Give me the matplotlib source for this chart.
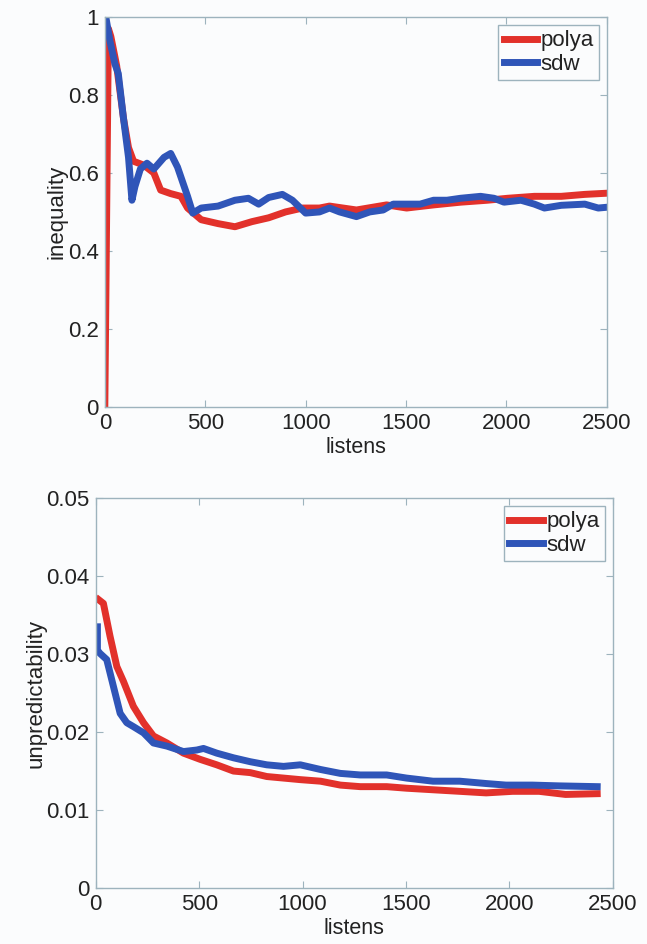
import numpy as np
import matplotlib.pyplot as plt

plt.rcParams['font.family'] = ['Liberation Sans', 'DejaVu Sans']

##### inequality vs listens (top panel)
ineq_polya_x = [0, 0, 18, 30, 59, 93, 118, 143, 194, 244, 278, 328, 379, 412, 480,
                564, 648, 732, 816, 900, 985, 1069, 1119, 1253, 1403, 1503, 1637,
                1771, 1905, 2005, 2139, 2273, 2390, 2500]
ineq_polya_y = [0.0, 0.0, 0.97, 0.95, 0.875, 0.74, 0.665, 0.63, 0.62, 0.60, 0.556,
                0.547, 0.54, 0.51, 0.48, 0.47, 0.462, 0.475, 0.485, 0.50, 0.51, 0.51,
                0.515, 0.505, 0.518, 0.51, 0.518, 0.525, 0.53, 0.535, 0.54, 0.54,
                0.545, 0.548]

ineq_sdw_x = [5, 25, 50, 67, 93, 118, 135, 150, 177, 210, 244, 295, 328, 362, 412,
              438, 480, 564, 648, 715, 766, 816, 884, 934, 1000, 1069, 1119, 1169,
              1253, 1319, 1386, 1436, 1503, 1570, 1637, 1704, 1771, 1871, 1938,
              1988, 2072, 2139, 2189, 2273, 2390, 2457, 2500]
ineq_sdw_y = [1.0, 0.94, 0.88, 0.855, 0.74, 0.64, 0.53, 0.565, 0.61, 0.625, 0.61,
              0.64, 0.65, 0.615, 0.54, 0.497, 0.51, 0.515, 0.53, 0.535, 0.52, 0.537,
              0.545, 0.53, 0.497, 0.50, 0.51, 0.50, 0.488, 0.50, 0.505, 0.52, 0.52,
              0.52, 0.53, 0.53, 0.535, 0.54, 0.535, 0.525, 0.53, 0.52, 0.51, 0.517,
              0.52, 0.51, 0.512]

##### unpredictability vs listens (bottom panel)
unp_polya_x = [13, 37, 69, 102, 134, 182, 231, 279, 344, 424, 505, 585, 666, 747,
               827, 908, 989, 1087, 1183, 1279, 1407, 1503, 1631, 1760, 1888, 2016,
               2144, 2272, 2425]
unp_polya_y = [0.037, 0.0365, 0.0323, 0.0284, 0.0265, 0.0233, 0.0212, 0.0195, 0.0186,
               0.0173, 0.0165, 0.0158, 0.015, 0.0148, 0.0143, 0.0141, 0.0139, 0.0137,
               0.0132, 0.013, 0.013, 0.0128, 0.0126, 0.0124, 0.0122, 0.0124, 0.0124,
               0.012, 0.0121]

unp_sdw_x = [8, 8, 20, 53, 85, 118, 150, 182, 231, 279, 344, 424, 489, 521, 585,
             666, 747, 827, 908, 989, 1087, 1183, 1279, 1407, 1503, 1631, 1760, 1888,
             1984, 2112, 2240, 2425]
unp_sdw_y = [0.0335, 0.0305, 0.0301, 0.0293, 0.0259, 0.0224, 0.0212, 0.0207, 0.0199,
             0.0186, 0.0182, 0.0175, 0.0177, 0.0179, 0.0173, 0.0167, 0.0162, 0.0158,
             0.0156, 0.0158, 0.0152, 0.0147, 0.0145, 0.0145, 0.0141, 0.0137, 0.0137,
             0.0134, 0.0132, 0.0132, 0.0131, 0.013]

red = '#e2312b'
blue = '#2f55b8'
spine = '#9db3bd'
bg = '#fbfcfd'

fig = plt.figure(figsize=(6.47, 9.44), dpi=100, facecolor=bg)
ax1 = fig.add_axes([0.162, 0.569, 0.776, 0.413])
ax2 = fig.add_axes([0.148, 0.0593, 0.799, 0.413])


def style(ax, ylabel):
    ax.set_facecolor(bg)
    for s in ax.spines.values():
        s.set_color(spine)
        s.set_linewidth(1.0)
    ax.tick_params(direction='in', top=True, right=True, length=5, color=spine,
                   labelsize=16, labelcolor='#222222', pad=4.5)
    ax.set_xlabel('listens', fontsize=15.5, color='#222222', labelpad=2)
    ax.set_ylabel(ylabel, fontsize=16, color='#222222', labelpad=0)
    leg = ax.legend(loc='upper right', fontsize=16, handlelength=1.5,
                    handletextpad=0.15, borderpad=0.25, labelspacing=0.1,
                    fancybox=False, framealpha=1, borderaxespad=0.35)
    leg.get_frame().set_edgecolor(spine)
    leg.get_frame().set_facecolor(bg)
    leg.get_frame().set_linewidth(1.0)
    for t in leg.get_texts():
        t.set_color('#222222')


ax1.plot(ineq_polya_x, ineq_polya_y, color=red, lw=5, label='polya')
ax1.plot(ineq_sdw_x, ineq_sdw_y, color=blue, lw=5, label='sdw')
ax1.set_xlim(0, 2500)
ax1.set_ylim(0, 1)
ax1.set_xticks([0, 500, 1000, 1500, 2000, 2500])
ax1.set_yticks([0, 0.2, 0.4, 0.6, 0.8, 1])
ax1.set_yticklabels(['0', '0.2', '0.4', '0.6', '0.8', '1'])
style(ax1, 'inequality')

ax2.plot(unp_polya_x, unp_polya_y, color=red, lw=5, label='polya')
ax2.plot(unp_sdw_x, unp_sdw_y, color=blue, lw=5, label='sdw')
ax2.set_xlim(0, 2500)
ax2.set_ylim(0, 0.05)
ax2.set_xticks([0, 500, 1000, 1500, 2000, 2500])
ax2.set_yticks([0, 0.01, 0.02, 0.03, 0.04, 0.05])
ax2.set_yticklabels(['0', '0.01', '0.02', '0.03', '0.04', '0.05'])
style(ax2, 'unpredictability')

fig.savefig('out.png', dpi=100, facecolor=bg)
